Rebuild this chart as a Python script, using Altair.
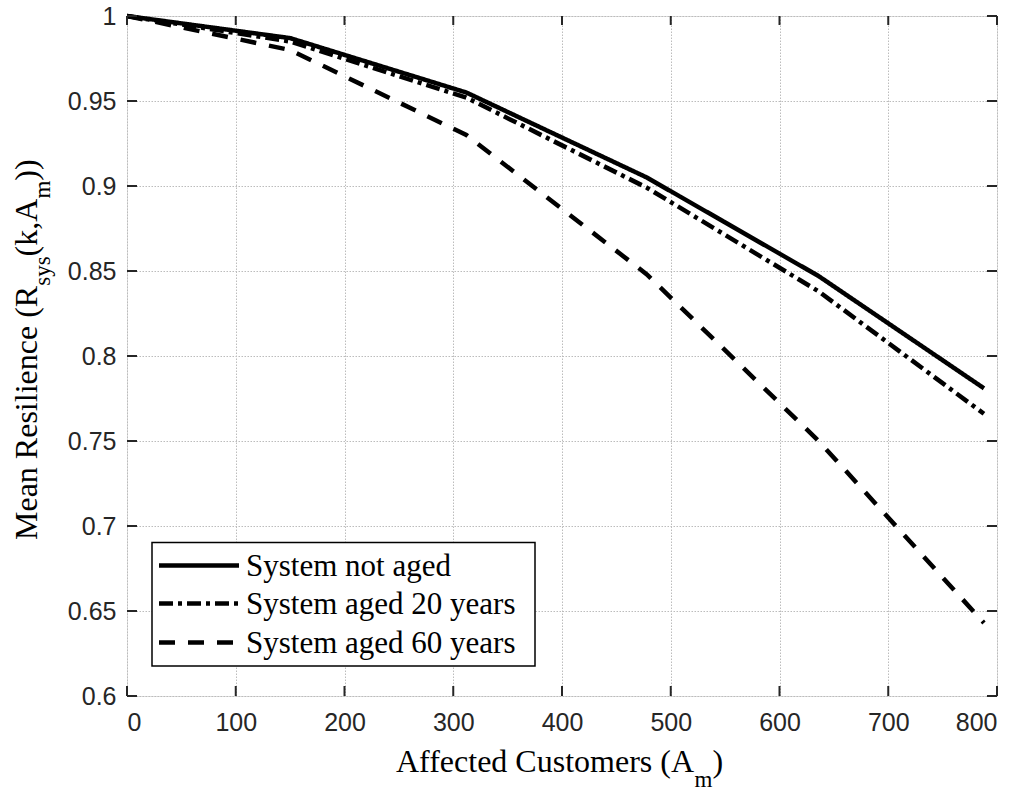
import altair as alt
import pandas as pd

# ---- data ----
customers = [0, 150, 312, 478, 636, 788]
not_aged = [1.000, 0.987, 0.955, 0.905, 0.847, 0.781]
aged_20 = [1.000, 0.985, 0.952, 0.899, 0.838, 0.766]
aged_60 = [1.000, 0.980, 0.930, 0.848, 0.750, 0.643]
series_names = ["System not aged", "System aged 20 years", "System aged 60 years"]
series_dashes = [[1, 0], [14, 5, 4, 5], [16, 13]]

x_tick_values = [0, 100, 200, 300, 400, 500, 600, 700, 800]
y_tick_values = [0.6, 0.65, 0.7, 0.75, 0.8, 0.85, 0.9, 0.95, 1.0]

x_title_parts = ["Affected Customers (A", "m", ")"]
y_title_parts = ["Mean Resilience (R", "sys", "(k,A", "m", "))"]

rows = []
for name, vals in zip(series_names, [not_aged, aged_20, aged_60]):
    for c, v in zip(customers, vals):
        rows.append({"x": c, "y": v, "series": name})
df = pd.DataFrame(rows)

W, H = 870, 680
AX = "#262626"
SERIF = "Liberation Serif"
SANS = "Liberation Sans"
LW = 4.5

xscale = alt.Scale(domain=[0, 800], nice=False, zero=False)
yscale = alt.Scale(domain=[0.6, 1.0], nice=False, zero=False)
xaxis = alt.Axis(values=x_tick_values, title=None, tickSize=0, domain=False,
                 labelFont=SANS, labelFontSize=25, labelColor=AX, labelPadding=14,
                 grid=True, gridColor="#bcbcbc", gridDash=[1.5, 1.5], gridWidth=1)
yaxis = alt.Axis(values=y_tick_values, title=None, tickSize=0, domain=False, format=".2~f",
                 labelFont=SANS, labelFontSize=25, labelColor=AX, labelPadding=11,
                 grid=True, gridColor="#bcbcbc", gridDash=[1.5, 1.5], gridWidth=1)

lines = alt.Chart(df).mark_line(color="black", strokeWidth=LW).encode(
    x=alt.X("x:Q", scale=xscale, axis=xaxis),
    y=alt.Y("y:Q", scale=yscale, axis=yaxis),
    strokeDash=alt.StrokeDash(
        "series:N",
        scale=alt.Scale(domain=series_names, range=series_dashes),
        sort=series_names,
        legend=None,
    ),
    detail="series:N",
)

xt = pd.DataFrame({"x": x_tick_values})
yt = pd.DataFrame({"y": y_tick_values})
tick_style = dict(color=AX, strokeWidth=2)
xe = alt.X("x:Q", scale=xscale, axis=xaxis)
ye = alt.Y("y:Q", scale=yscale, axis=yaxis)
bottom_ticks = alt.Chart(xt).mark_rule(**tick_style).encode(x=xe, y=alt.value(H), y2=alt.value(H - 10))
top_ticks = alt.Chart(xt).mark_rule(**tick_style).encode(x=xe, y=alt.value(0), y2=alt.value(9))
left_ticks = alt.Chart(yt).mark_rule(**tick_style).encode(y=ye, x=alt.value(0), x2=alt.value(10))
right_ticks = alt.Chart(yt).mark_rule(**tick_style).encode(y=ye, x=alt.value(W), x2=alt.value(W - 10))


def txt(s, size, x, y, angle=0):
    return alt.Chart(pd.DataFrame({"t": [s]})).mark_text(
        font=SERIF, fontSize=size, color="black", align="left", baseline="alphabetic", angle=angle
    ).encode(text="t:N", x=alt.value(x), y=alt.value(y))


# x title with subscript
xt_parts = [
    txt(x_title_parts[0], 32, 269, 756),
    txt(x_title_parts[1], 23, 567.6, 771),
    txt(x_title_parts[2], 32, 585.5, 756),
]
# y title (rotated) with subscripts
yt_parts = [
    txt(y_title_parts[0], 32, -90, 524, 270),
    txt(y_title_parts[1], 23, -77, 269.8, 270),
    txt(y_title_parts[2], 32, -90, 240.4, 270),
    txt(y_title_parts[3], 23, -77, 182.6, 270),
    txt(y_title_parts[4], 32, -90, 164.7, 270),
]

# legend (box, sample lines, labels)
legend_box = alt.Chart(pd.DataFrame({"s": ["legend"]})).mark_rect(
    fill="white", stroke="black", strokeWidth=1.5
).encode(x=alt.value(25), x2=alt.value(408), y=alt.value(526.5), y2=alt.value(650))
legend_layers = [legend_box]
row_centres = [549.5, 587.5, 626.5]
for name, dash, yc in zip(series_names, series_dashes, row_centres):
    legend_layers.append(
        alt.Chart(pd.DataFrame({"s": [name]})).mark_rule(
            color="black", strokeWidth=LW, strokeDash=dash
        ).encode(x=alt.value(32), x2=alt.value(112), y=alt.value(yc))
    )
    legend_layers.append(
        alt.Chart(pd.DataFrame({"t": [name]})).mark_text(
            font=SERIF, fontSize=31, color="black", align="left", baseline="alphabetic"
        ).encode(text="t:N", x=alt.value(119), y=alt.value(yc + 10))
    )

chart = alt.layer(
    lines, bottom_ticks, top_ticks, left_ticks, right_ticks, *legend_layers, *xt_parts, *yt_parts
).properties(
    width=W, height=H,
    autosize=alt.AutoSizeParams(type="none"),
    padding={"left": 127, "top": 16, "right": 25, "bottom": 96},
).configure_view(stroke=AX, strokeWidth=2).configure(background="white")

chart.save("out.html", embed_options={"renderer": "svg", "actions": False})
